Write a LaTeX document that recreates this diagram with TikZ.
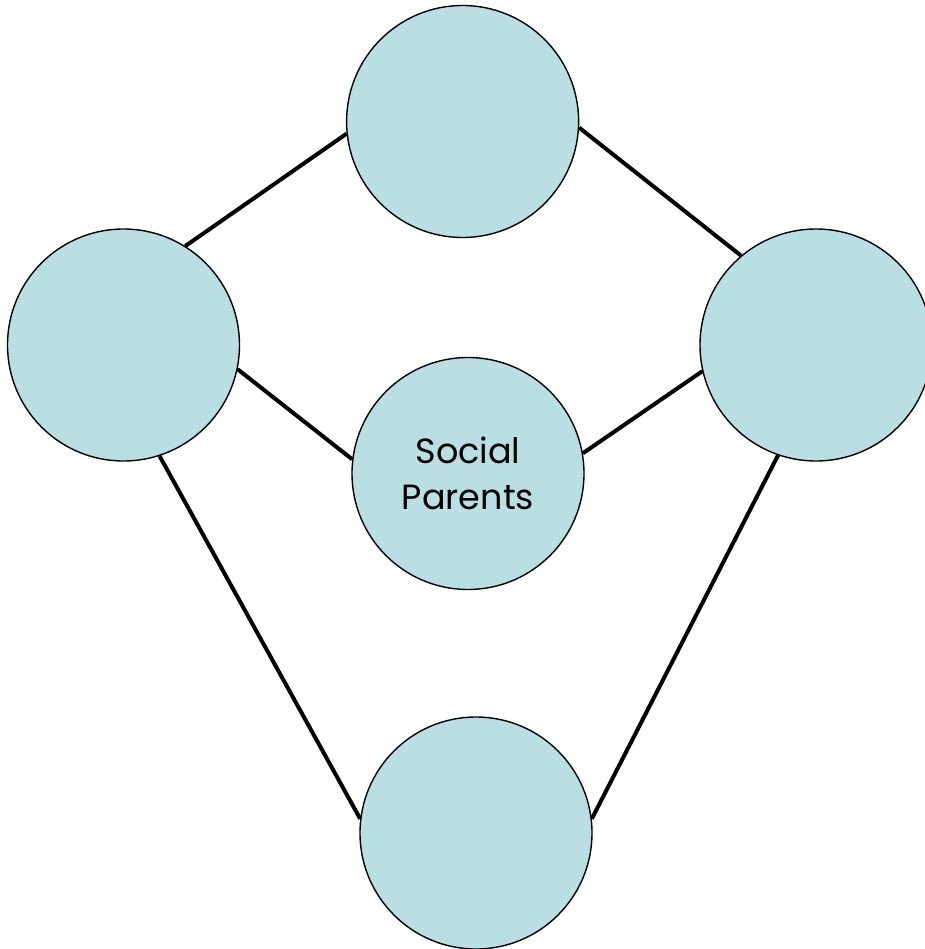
\documentclass[tikz,border=0pt]{standalone}
\usepackage{fontspec}
\setmainfont{Poppins}
\definecolor{nodefill}{RGB}{185,223,227}
\tikzset{
  bubble/.style={circle, draw=black, line width=1.4pt, fill=nodefill, minimum size=232pt, inner sep=0pt, align=center, font=\fontsize{35}{46}\selectfont},
  link/.style={line width=4pt, black}
}
\begin{document}
\begin{tikzpicture}[x=1pt,y=-1pt]
\useasboundingbox (0,0) rectangle (924,949);
\node[bubble] (top) at (462.6,121.5) {};
\node[bubble] (left) at (123.5,345) {};
\node[bubble] (right) at (816,345) {};
\node[bubble] (mid) at (468,473.5) {\raisebox{-3pt}{Social}\\\raisebox{-3pt}{Parents}};
\node[bubble] (bot) at (476,833) {};
\draw[link] (left.58.6) -- (top.186.3);
\draw[link] (top.-3.4) -- (right.130.7);
\draw[link] (left.-12.6) -- (mid.173);
\draw[link] (mid.10.5) -- (right.193.7);
\draw[link] (left.-72.4) -- (bot.173);
\draw[link] (right.251.1) -- (bot.7);
\end{tikzpicture}
\end{document}
